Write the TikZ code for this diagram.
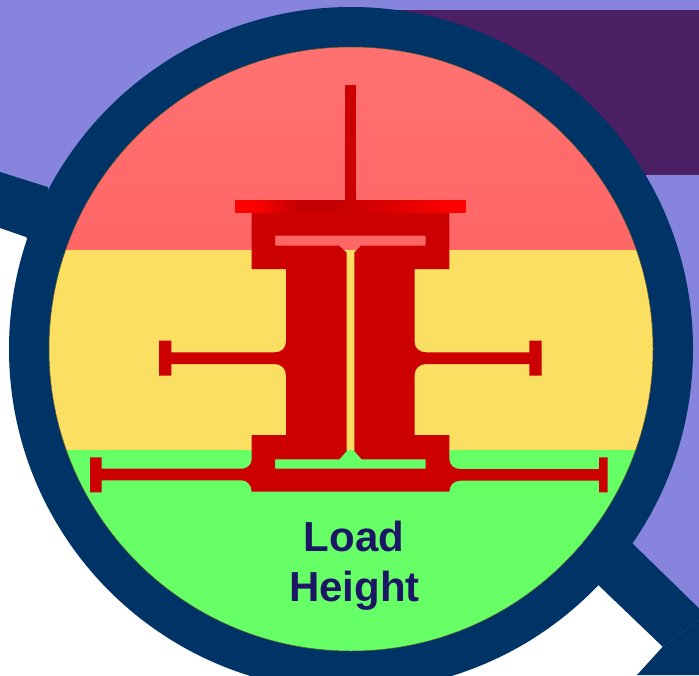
\documentclass[tikz,border=0pt]{standalone}
\usepackage{fontspec}
\setmainfont{Liberation Sans}
\definecolor{navyring}{HTML}{003366}
\definecolor{lav}{HTML}{8784DE}
\definecolor{plum}{HTML}{4A1F63}
\definecolor{bandred}{HTML}{FF6666}
\definecolor{bandredtop}{HTML}{FF7272}
\definecolor{bandyellow}{HTML}{FADF63}
\definecolor{bandgreen}{HTML}{66FF66}
\definecolor{beam}{HTML}{CC0000}
\definecolor{labelblue}{HTML}{1C1764}
\pgfdeclarehorizontalshading{plateshade}{100bp}{
  color(0bp)=(red!100!black);
  color(29bp)=(red!100!black);
  color(39bp)=(red!76!black);
  color(45bp)=(red!76!black);
  color(60bp)=(red!88!black);
  color(72bp)=(red!100!black);
  color(100bp)=(red!100!black)}
\tikzset{
  ringfill/.style={fill=navyring,draw=none},
  beamfill/.style={fill=beam,draw=none},
  labeltext/.style={font=\fontsize{42}{50}\selectfont\bfseries,text=labelblue,anchor=base,inner sep=0pt}
}
\begin{document}
\begin{tikzpicture}[x=1pt,y=-1pt]
\useasboundingbox (0,0) rectangle (699,675);
\fill[white] (0,0) rectangle (699,675);
% backdrop
\fill[lav] (0,0) -- (699,0) -- (699,620) -- (620,560) -- (351,349) -- (0,200) -- cycle;
\fill[plum] (380,9.5) rectangle (699,175);
% handles
\fill[navyring] (0,172) -- (47.7,187) -- (80,300) -- (26,237) -- (0,228) -- cycle;
\fill[navyring] (631.7,542.7) -- (699,608.3) -- (699,675) -- (637,675) -- (662.7,646.7) -- (598.3,585) -- (560,500) -- cycle;
\draw[navyring!80!lav,line width=.4pt] (662.7,646.7) -- (699,620);
% ring and bands
\fill[navyring] (351,349) circle[radius=342];
\begin{scope}
\clip (351,349) circle[radius=302];
\shade[top color=bandredtop,bottom color=bandred,draw=none] (40,40) rectangle (660,250);
\fill[bandyellow] (40,249.8) rectangle (660,450);
\fill[bandgreen] (40,450) rectangle (660,660);
\end{scope}
\draw[black!60!bandyellow,line width=.5pt] (351,349) circle[radius=302];
% stem and plate
\fill[beam] (345,85) rectangle (356.3,201);
\fill[beam,even odd rule]
  (251.7,212) -- (449.3,212) -- (449.3,269) -- (414.5,269) -- (414.5,341.7)
  .. controls (414.5,348) and (419,352.3) .. (426,352.3)
  -- (529.3,352.3) -- (529.3,340.7) -- (541.7,340.7) -- (541.7,375.7) -- (529.3,375.7) -- (529.3,364) -- (426,364)
  .. controls (419,364) and (414.5,369) .. (414.5,375.5)
  -- (414.5,435) -- (449.3,435) -- (449.3,459)
  .. controls (449.3,465) and (454,469) .. (460,469)
  -- (599,469) -- (599,457.3) -- (607.7,457.3) -- (607.7,492.3) -- (599,492.3) -- (599,480.7) -- (460,480.7)
  .. controls (454,480.7) and (449.3,485) .. (449.3,491.7)
  -- (251.7,491.7)
  .. controls (251.7,485) and (247,480.3) .. (241.7,480.3)
  -- (101.7,480.3) -- (101.7,492.3) -- (90,492.3) -- (90,457.3) -- (101.7,457.3) -- (101.7,468.7) -- (241.7,468.7)
  .. controls (247,468.7) and (251.7,465) .. (251.7,459)
  -- (251.7,435) -- (286,435) -- (286,375.5)
  .. controls (286,369) and (281.5,364) .. (275,364)
  -- (171.3,364) -- (171.3,375.7) -- (159,375.7) -- (159,340.7) -- (171.3,340.7) -- (171.3,352.3) -- (275,352.3)
  .. controls (281.5,352.3) and (286,348) .. (286,341.7)
  -- (286,269) -- (251.7,269) -- cycle
  (275,235.7) -- (425.7,235.7) -- (425.7,245.7) -- (361,245.7) -- (354.3,252.7) -- (354.3,451) -- (361.7,459.3) -- (425.7,459.3) -- (425.7,468.7)
  -- (275,468.7) -- (275,459.3) -- (339.3,459.3) -- (346.7,451) -- (346.7,252.7) -- (339,245.7) -- (275,245.7) -- cycle;
\shade[shading=plateshade] (235,200.7) rectangle (465.7,212);
% label
\node[labeltext] (load) at (354,551.5) {Load};
\node[labeltext] (height) at (354.5,601.5) {Height};
\end{tikzpicture}
\end{document}
